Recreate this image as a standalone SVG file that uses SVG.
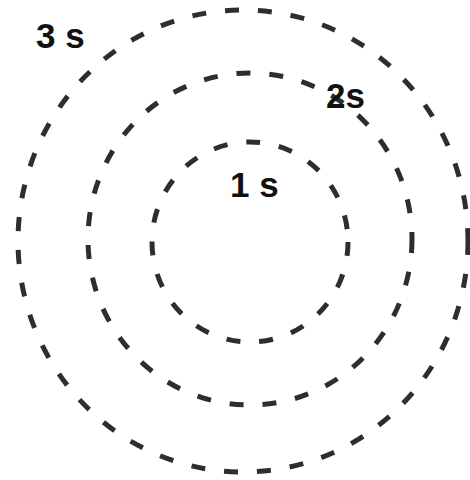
<svg xmlns="http://www.w3.org/2000/svg" width="470" height="480" viewBox="0 0 470 480">
<style>
.orb{fill:none;stroke:#2e2e2e;stroke-width:5;stroke-dasharray:14 19;stroke-linecap:butt}
.lbl{font-family:"Liberation Sans",Arial,sans-serif;font-weight:bold;font-size:35px;fill:#111}
</style>
<rect width="470" height="480" fill="#fff"/>
<g id="connectors"></g>
<g id="orbit-3s">
<ellipse class="orb" cx="243" cy="241" rx="225" ry="231"/>
<text class="lbl" x="36" y="48">3 s</text>
</g>
<g id="orbit-2s">
<ellipse class="orb" cx="250" cy="239" rx="162" ry="166"/>
<text class="lbl" x="326" y="108">2s</text>
</g>
<g id="orbit-1s">
<ellipse class="orb" cx="250" cy="242" rx="98" ry="100"/>
<text class="lbl" x="230" y="197">1 s</text>
</g>
</svg>
